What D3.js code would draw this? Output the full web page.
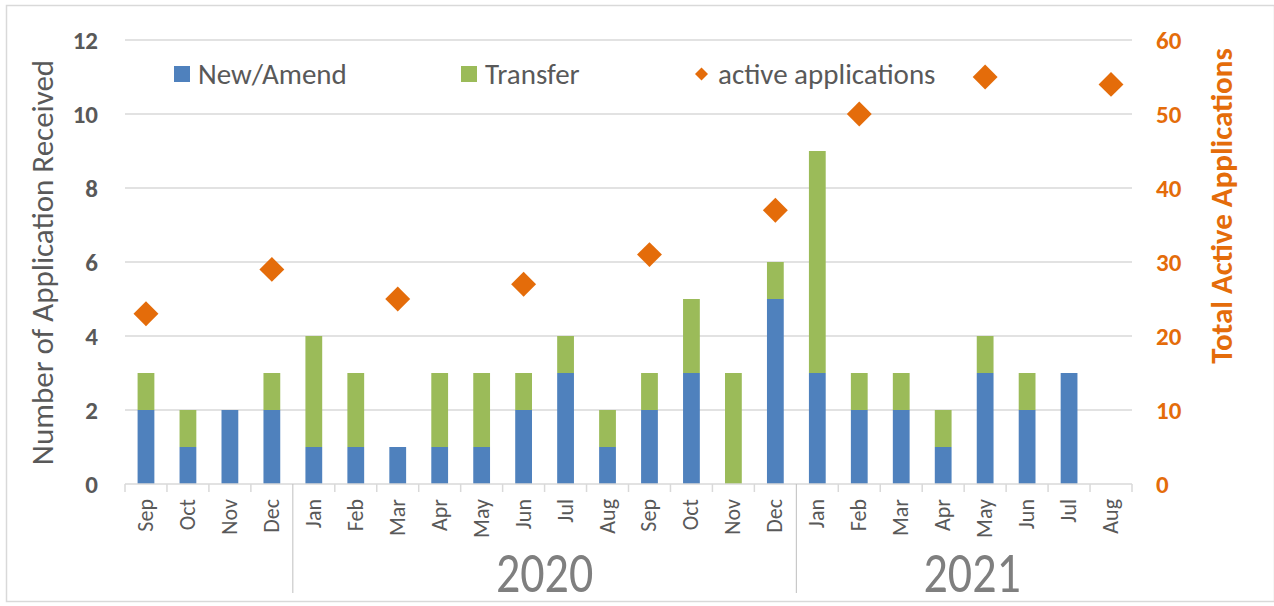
<!DOCTYPE html>
<html>
<head>
<meta charset="utf-8">
<script src="https://cdn.jsdelivr.net/npm/d3@7"></script>
<style>
  body { margin: 0; background: #fff; }
  svg { font-family: Calibri, Carlito, "Open Sans", "Noto Sans", sans-serif; }
</style>
</head>
<body>
<div id="chart"></div>
<script>
const months = ['Sep','Oct','Nov','Dec','Jan','Feb','Mar','Apr','May','Jun','Jul','Aug',
                'Sep','Oct','Nov','Dec','Jan','Feb','Mar','Apr','May','Jun','Jul','Aug']
const years = [{ label: '', from: 0, to: 4 }, { label: '2020', from: 4, to: 16 }, { label: '2021', from: 16, to: 24 }]
const newAmend = [2, 1, 2, 2, 1, 1, 1, 1, 1, 2, 3, 1, 2, 3, 0, 5, 3, 2, 2, 1, 3, 2, 3, 0]
const transfer = [1, 1, 0, 1, 3, 2, 0, 2, 2, 1, 1, 1, 1, 2, 3, 1, 6, 1, 1, 1, 1, 1, 0, 0]
// active applications only reported every few months
const activeIdx = [0, 3, 6, 9, 12, 15, 17, 20, 23]
const activeVal = [23, 29, 25, 27, 31, 37, 50, 55, 54]
const leftTicks = [0, 2, 4, 6, 8, 10, 12]
const rightTicks = [0, 10, 20, 30, 40, 50, 60]

const W = 1274, H = 606
const margin = { top: 40, right: 142, bottom: 122, left: 125 }
const blue = '#4f81bd', green = '#9bbb59', orange = '#e46c0a', grey = '#595959'

const svg = d3.select('#chart').append('svg')
  .attr('width', W).attr('height', H)

// outer frame
svg.append('rect')
  .attr('x', 6.5).attr('y', 5.5).attr('width', W - 6).attr('height', H - 10)
  .attr('fill', 'none').attr('stroke', '#d9d9d9').attr('stroke-width', 1.5)

const x = d3.scaleBand().domain(d3.range(months.length))
  .range([margin.left, W - margin.right]).paddingInner(0.6).paddingOuter(0.3)
const xb = d3.scaleLinear().domain([0, months.length]).range([margin.left, W - margin.right])
const y = d3.scaleLinear().domain([0, 12]).range([H - margin.bottom, margin.top])
const y2 = d3.scaleLinear().domain([0, 60]).range([H - margin.bottom, margin.top])

// gridlines
svg.selectAll('.grid')
  .data(leftTicks.slice(1))
  .enter().append('line')
  .attr('x1', margin.left).attr('x2', W - margin.right)
  .attr('y1', d => y(d)).attr('y2', d => y(d))
  .attr('stroke', '#d9d9d9').attr('stroke-width', 1.5)

// stacked bars
svg.selectAll('.bar-new')
  .data(newAmend)
  .enter().append('rect')
  .attr('x', (d, i) => x(i))
  .attr('y', d => y(d))
  .attr('width', x.bandwidth())
  .attr('height', d => y(0) - y(d))
  .attr('fill', blue)

svg.selectAll('.bar-transfer')
  .data(transfer)
  .enter().append('rect')
  .attr('x', (d, i) => x(i))
  .attr('y', (d, i) => y(newAmend[i] + d))
  .attr('width', x.bandwidth())
  .attr('height', d => y(0) - y(d))
  .attr('fill', green)

// diamonds
const diamond = d3.symbol().type(d3.symbolSquare).size(310)
svg.selectAll('.active')
  .data(activeVal)
  .enter().append('path')
  .attr('d', diamond)
  .attr('transform', (d, i) => `translate(${x(activeIdx[i]) + x.bandwidth() / 2},${y2(d)}) rotate(45)`)
  .attr('fill', orange)

// x axis line + ticks
const base = y(0)
svg.append('line')
  .attr('x1', margin.left).attr('x2', W - margin.right)
  .attr('y1', base).attr('y2', base)
  .attr('stroke', '#d9d9d9').attr('stroke-width', 1.5)
svg.selectAll('.xtick')
  .data(d3.range(months.length + 1))
  .enter().append('line')
  .attr('x1', d => xb(d)).attr('x2', d => xb(d))
  .attr('y1', base).attr('y2', d => (d === 4 || d === 16) ? 593 : base + 8)
  .attr('stroke', d => (d === 4 || d === 16) ? '#bfbfbf' : '#d9d9d9')
  .attr('stroke-width', d => (d === 4 || d === 16) ? 1 : 1.5)

svg.selectAll('.month')
  .data(months)
  .enter().append('text')
  .attr('transform', (d, i) => `translate(${x(i) + x.bandwidth() / 2 + 7},${base + 15}) rotate(-90)`)
  .attr('text-anchor', 'end')
  .attr('font-size', 22)
  .attr('fill', grey)
  .text(d => d)

svg.selectAll('.year')
  .data(years.filter(d => d.label))
  .enter().append('text')
  .attr('transform', d => `translate(${(xb(d.from) + xb(d.to)) / 2 + (d.to === 24 ? 8 : 0)},592) scale(1,1.2)`)
  .attr('text-anchor', 'middle')
  .attr('font-size', 48)
  .attr('fill', '#7f7f7f')
  .text(d => d.label)

// left axis
svg.selectAll('.ltick')
  .data(leftTicks)
  .enter().append('text')
  .attr('x', 98).attr('y', d => y(d))
  .attr('dy', '0.35em')
  .attr('text-anchor', 'end')
  .attr('font-size', 25).attr('font-weight', 'bold')
  .attr('fill', grey)
  .text(d => d)

svg.append('text')
  .attr('transform', `translate(53,${(55 + 470) / 2}) rotate(-90)`)
  .attr('text-anchor', 'middle')
  .attr('font-size', 31)
  .attr('fill', grey)
  .text('Number of Application Received')

// right axis
svg.selectAll('.rtick')
  .data(rightTicks)
  .enter().append('text')
  .attr('x', 1156).attr('y', d => y2(d))
  .attr('dy', '0.35em')
  .attr('font-size', 25).attr('font-weight', 'bold')
  .attr('fill', orange)
  .text(d => d)

svg.append('text')
  .attr('transform', `translate(1232,${(45 + 367) / 2}) rotate(-90)`)
  .attr('text-anchor', 'middle')
  .attr('font-size', 31).attr('font-weight', 'bold')
  .attr('fill', orange)
  .text('Total Active Applications')

// legend
const legend = [
  { label: 'New/Amend', x: 174, kind: 'sq', color: blue },
  { label: 'Transfer', x: 461, kind: 'sq', color: green },
  { label: 'active applications', x: 695, kind: 'dia', color: orange }
]
const lg = svg.selectAll('.legend').data(legend).enter().append('g')
  .attr('transform', d => `translate(${d.x},74)`)
lg.filter(d => d.kind === 'sq').append('rect')
  .attr('x', 0).attr('y', -8).attr('width', 16).attr('height', 16)
  .attr('fill', d => d.color)
lg.filter(d => d.kind === 'dia').append('path')
  .attr('d', d3.symbol().type(d3.symbolSquare).size(85))
  .attr('transform', 'translate(6.5,0) rotate(45)')
  .attr('fill', d => d.color)
lg.append('text')
  .attr('x', d => d.kind === 'sq' ? 24 : 23).attr('dy', '0.35em')
  .attr('font-size', 29).attr('fill', grey)
  .text(d => d.label)
</script>
</body>
</html>
